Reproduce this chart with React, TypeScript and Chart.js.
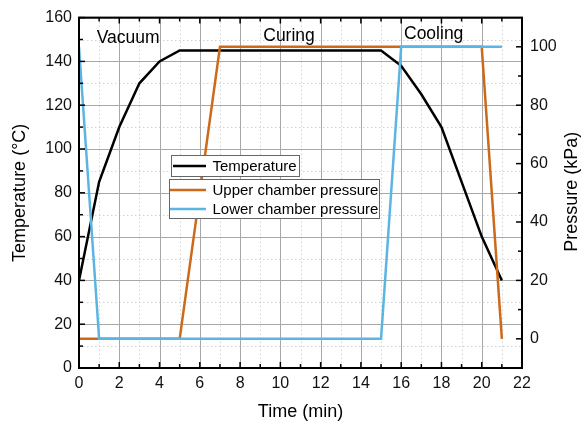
import React, { useEffect, useRef } from "react";
import { Chart, registerables } from "chart.js";

Chart.register(...registerables);

// ---- data ----
const tempTime = [0, 1, 2, 3, 4, 5, 15, 16, 17, 18, 19, 20, 21];
const tempValues = [40, 85, 110, 130, 140, 145, 145, 138, 125, 110, 85, 60, 40];

const upperTime = [0, 5, 7, 20, 21];
const upperValues = [0, 0, 100, 100, 0];

const lowerTime = [0, 1, 15, 16, 21];
const lowerValues = [100, 0, 0, 100, 100];

const seriesNames = ["Temperature", "Upper chamber pressure", "Lower chamber pressure"];

const xTicks = [0, 2, 4, 6, 8, 10, 12, 14, 16, 18, 20, 22];
const xMinorTicks = [1, 3, 5, 7, 9, 11, 13, 15, 17, 19, 21];
const tempTicks = [0, 20, 40, 60, 80, 100, 120, 140, 160];
const tempMinorTicks = [10, 30, 50, 70, 90, 110, 130, 150];
const pressureTicks = [0, 20, 40, 60, 80, 100];
const pressureMinorTicks = [10, 30, 50, 70, 90];

const phaseNames = ["Vacuum", "Curing", "Cooling"];
const phaseX = [0.88, 9.15, 16.14];
const phaseY = [148.3, 149.3, 150.3];

const xTitle = "Time (min)";
const yTitle = "Temperature (°C)";
const y1Title = "Pressure (kPa)";

// ---- styles ----
const FONT = "'Liberation Sans', Arial, Helvetica, sans-serif";
const BLACK = "#000000";
const ORANGE = "#CC6A1C";
const BLUE = "#5BB5E2";

const pts = (xs: number[], ys: number[]) => xs.map((x, i) => ({ x, y: ys[i] }));

const decorPlugin = {
  id: "decor",
  beforeDatasetsDraw(chart: any) {
    const ctx = chart.ctx;
    const ca = chart.chartArea;
    const sx = chart.scales.x;
    const sy = chart.scales.y;
    ctx.save();
    // minor dotted grid
    ctx.strokeStyle = "#d2d2d2";
    ctx.lineWidth = 1;
    ctx.setLineDash([1.5, 2.5]);
    xMinorTicks.forEach((v) => {
      const px = Math.round(sx.getPixelForValue(v)) + 0.5;
      ctx.beginPath();
      ctx.moveTo(px, ca.top);
      ctx.lineTo(px, ca.bottom);
      ctx.stroke();
    });
    tempMinorTicks.forEach((v) => {
      const py = Math.round(sy.getPixelForValue(v)) + 0.5;
      ctx.beginPath();
      ctx.moveTo(ca.left, py);
      ctx.lineTo(ca.right, py);
      ctx.stroke();
    });
    // major solid grid
    ctx.setLineDash([]);
    ctx.strokeStyle = "#a8a8a8";
    xTicks.forEach((v) => {
      const px = Math.round(sx.getPixelForValue(v)) + 0.5;
      ctx.beginPath();
      ctx.moveTo(px, ca.top);
      ctx.lineTo(px, ca.bottom);
      ctx.stroke();
    });
    tempTicks.forEach((v) => {
      const py = Math.round(sy.getPixelForValue(v)) + 0.5;
      ctx.beginPath();
      ctx.moveTo(ca.left, py);
      ctx.lineTo(ca.right, py);
      ctx.stroke();
    });
    ctx.restore();
  },
  afterDatasetsDraw(chart: any) {
    const ctx = chart.ctx;
    const ca = chart.chartArea;
    const sx = chart.scales.x;
    const sy = chart.scales.y;
    const sy1 = chart.scales.y1;
    ctx.save();

    // frame
    ctx.strokeStyle = "#000";
    ctx.lineWidth = 2;
    ctx.strokeRect(ca.left, ca.top, ca.right - ca.left, ca.bottom - ca.top);

    // inward ticks
    ctx.lineWidth = 1.5;
    const MAJ = 6;
    const MIN = 4;
    const tickX = (v: number, len: number) => {
      const px = sx.getPixelForValue(v);
      ctx.beginPath();
      ctx.moveTo(px, ca.bottom);
      ctx.lineTo(px, ca.bottom - len);
      ctx.moveTo(px, ca.top);
      ctx.lineTo(px, ca.top + len);
      ctx.stroke();
    };
    xTicks.forEach((v) => tickX(v, MAJ));
    xMinorTicks.forEach((v) => tickX(v, MIN));
    const tickL = (v: number, len: number) => {
      const py = sy.getPixelForValue(v);
      ctx.beginPath();
      ctx.moveTo(ca.left, py);
      ctx.lineTo(ca.left + len, py);
      ctx.stroke();
    };
    tempTicks.forEach((v) => tickL(v, MAJ));
    tempMinorTicks.forEach((v) => tickL(v, MIN));
    const tickR = (v: number, len: number) => {
      const py = sy1.getPixelForValue(v);
      ctx.beginPath();
      ctx.moveTo(ca.right, py);
      ctx.lineTo(ca.right - len, py);
      ctx.stroke();
    };
    pressureTicks.forEach((v) => tickR(v, MAJ));
    pressureMinorTicks.forEach((v) => tickR(v, MIN));

    // phase annotations
    ctx.fillStyle = "#000";
    ctx.font = `17.5px ${FONT}`;
    ctx.textAlign = "left";
    ctx.textBaseline = "alphabetic";
    phaseNames.forEach((t, i) => {
      ctx.fillText(t, sx.getPixelForValue(phaseX[i]), sy.getPixelForValue(phaseY[i]));
    });

    // legend
    const colors = [BLACK, ORANGE, BLUE];
    const lx = ca.left;
    ctx.lineWidth = 1;
    ctx.fillStyle = "#ffffff";
    ctx.strokeStyle = "#666";
    // box 1
    ctx.fillRect(lx + 92.5, 155.5, 128, 21);
    ctx.strokeRect(lx + 92.5, 155.5, 128, 21);
    // box 2
    ctx.fillRect(lx + 90.5, 179.5, 210, 39);
    ctx.strokeRect(lx + 90.5, 179.5, 210, 39);
    const rowsY = [166, 190, 209];
    const lineStart = [lx + 94, lx + 91, lx + 91];
    ctx.font = `15px ${FONT}`;
    ctx.textBaseline = "middle";
    seriesNames.forEach((name, i) => {
      ctx.strokeStyle = colors[i];
      ctx.lineWidth = 2.5;
      ctx.beginPath();
      ctx.moveTo(lineStart[i], rowsY[i]);
      ctx.lineTo(lx + 127, rowsY[i]);
      ctx.stroke();
      ctx.fillStyle = "#000";
      ctx.fillText(name, lx + 133.5, rowsY[i] + 0.5);
    });

    // axis titles
    ctx.font = `18px ${FONT}`;
    ctx.fillStyle = "#000";
    ctx.textAlign = "center";
    ctx.textBaseline = "alphabetic";
    ctx.fillText(xTitle, (ca.left + ca.right) / 2, 416.5);
    const midY = (ca.top + ca.bottom) / 2;
    ctx.save();
    ctx.translate(24.5, midY);
    ctx.rotate(-Math.PI / 2);
    ctx.fillText(yTitle, 0, 0);
    ctx.restore();
    ctx.save();
    ctx.translate(576.5, midY - 1);
    ctx.rotate(-Math.PI / 2);
    ctx.fillText(y1Title, 0, 0);
    ctx.restore();

    ctx.restore();
  },
};

export default function App() {
  const ref = useRef<HTMLCanvasElement | null>(null);

  useEffect(() => {
    if (!ref.current) return;
    const tickFont = { family: FONT, size: 16 };
    const chart = new Chart(ref.current, {
      type: "line",
      data: {
        datasets: [
          {
            label: seriesNames[0],
            data: pts(tempTime, tempValues),
            borderColor: BLACK,
            borderWidth: 2.5,
            pointRadius: 0,
            tension: 0,
            yAxisID: "y",
            order: 2,
          },
          {
            label: seriesNames[1],
            data: pts(upperTime, upperValues),
            borderColor: ORANGE,
            borderWidth: 2.5,
            pointRadius: 0,
            tension: 0,
            yAxisID: "y1",
            order: 1,
          },
          {
            label: seriesNames[2],
            data: pts(lowerTime, lowerValues),
            borderColor: BLUE,
            borderWidth: 2.5,
            pointRadius: 0,
            tension: 0,
            yAxisID: "y1",
            order: 0,
          },
        ],
      },
      options: {
        animation: false,
        responsive: false,
        devicePixelRatio: 1,
        layout: { padding: { top: 11, left: 0, right: 0, bottom: 0 } },
        plugins: {
          legend: { display: false },
          tooltip: { enabled: false },
        },
        scales: {
          x: {
            type: "linear",
            min: 0,
            max: 22,
            grid: { display: false, drawTicks: false },
            border: { display: false },
            afterBuildTicks: (s: any) => {
              s.ticks = xTicks.map((v) => ({ value: v }));
            },
            afterFit: (s: any) => {
              s.height = 58;
            },
            ticks: {
              font: tickFont,
              color: "#111",
              padding: 6,
              autoSkip: false,
              maxRotation: 0,
            },
          },
          y: {
            type: "linear",
            position: "left",
            min: 0,
            max: 160,
            grid: { display: false, drawTicks: false },
            border: { display: false },
            afterBuildTicks: (s: any) => {
              s.ticks = tempTicks.map((v) => ({ value: v }));
            },
            afterFit: (s: any) => {
              s.width = 79;
            },
            ticks: { font: tickFont, color: "#111", padding: 7, autoSkip: false },
          },
          y1: {
            type: "linear",
            position: "right",
            min: -10,
            max: 110,
            grid: { display: false, drawTicks: false },
            border: { display: false },
            afterBuildTicks: (s: any) => {
              s.ticks = pressureTicks.map((v) => ({ value: v }));
            },
            afterFit: (s: any) => {
              s.width = 59;
            },
            ticks: { font: tickFont, color: "#111", padding: 8, autoSkip: false },
          },
        },
      } as any,
      plugins: [decorPlugin],
    });
    return () => chart.destroy();
  }, []);

  return (
    <div style={{ position: "fixed", left: 0, top: 0, width: 581, height: 426, background: "#fff" }}>
      <canvas ref={ref} width={581} height={426} style={{ display: "block", width: 581, height: 426 }} />
    </div>
  );
}
